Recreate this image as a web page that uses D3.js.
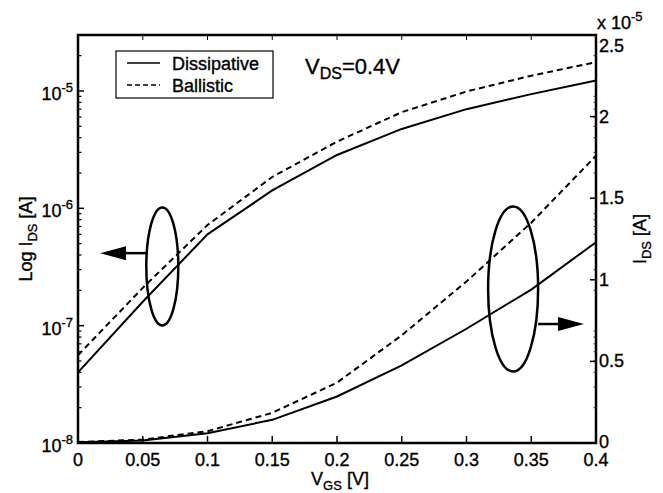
<!DOCTYPE html>
<html><head><meta charset="utf-8">
<script src="https://cdn.jsdelivr.net/npm/d3@7"></script>
<style>
body{margin:0;background:#fff;}
text{font-family:"Liberation Sans",Arial,Helvetica,sans-serif;fill:#000;stroke:#000;stroke-width:0.35px;}
</style></head>
<body><svg id="c" width="663" height="493"></svg>
<script>
// ---- data ----
const vgs = [0, 0.05, 0.1, 0.15, 0.2, 0.25, 0.3, 0.35, 0.4];
const dissipative = [4.0e-8, 1.6e-7, 6.0e-7, 1.42e-6, 2.85e-6, 4.75e-6, 7.0e-6, 9.4e-6, 1.23e-5];
const ballistic   = [5.6e-8, 2.1e-7, 7.2e-7, 1.85e-6, 3.7e-6, 6.6e-6, 9.9e-6, 1.35e-5, 1.76e-5];
const xTicks = [0, 0.05, 0.1, 0.15, 0.2, 0.25, 0.3, 0.35, 0.4];
const xTickLabels = ["0","0.05","0.1","0.15","0.2","0.25","0.3","0.35","0.4"];
const logTicks = [1e-8, 1e-7, 1e-6, 1e-5];
const logTickExp = ["-8","-7","-6","-5"];
const linTicks = [0, 0.5e-5, 1e-5, 1.5e-5, 2e-5, 2.5e-5];
const linTickLabels = ["0","0.5","1","1.5","2","2.5"];
const seriesNames = ["Dissipative","Ballistic"];

// ---- layout ----
const L=78, R=596, T=35, B=443;
const svg = d3.select("#c");
const x = d3.scaleLinear().domain([0,0.4]).range([L,R]);
const yLog = d3.scaleLog().domain([1e-8, 3e-5]).range([B,T]);
const yLin = d3.scaleLinear().domain([0, 2.5e-5]).range([B,T]);

const fs = 18, fsSub = 13;

// curves
function drawSeries(vals, yS, dashed){
  const line = d3.line().x((d,i)=>x(vgs[i])).y(d=>yS(d));
  svg.append("path").datum(vals).attr("d", line)
    .attr("fill","none").attr("stroke","#000").attr("stroke-width",2)
    .attr("stroke-dasharray", dashed ? "6,4" : null);
}
drawSeries(dissipative, yLog, false);
drawSeries(ballistic, yLog, true);
drawSeries(dissipative, yLin, false);
drawSeries(ballistic, yLin, true);

// frame
svg.append("rect").attr("x",L).attr("y",T).attr("width",R-L).attr("height",B-T)
  .attr("fill","none").attr("stroke","#000").attr("stroke-width",2.5);

// x ticks (bottom & top, inward)
xTicks.forEach((v,i)=>{
  svg.append("line").attr("x1",x(v)).attr("x2",x(v)).attr("y1",B).attr("y2",B-7).attr("stroke","#000").attr("stroke-width",1.5);
  svg.append("line").attr("x1",x(v)).attr("x2",x(v)).attr("y1",T).attr("y2",T+5).attr("stroke","#000").attr("stroke-width",1);
  svg.append("text").attr("x",x(v)).attr("y",B+23).attr("text-anchor","middle").attr("font-size",fs).text(xTickLabels[i]);
});

// log ticks left (major + minor) and mirrored right
const minor = [];
for (let e=-8; e<=-5; e++) for (let m=2; m<=9; m++){ const v=m*Math.pow(10,e); if (v<=3e-5) minor.push(v); }
minor.forEach(v=>{
  svg.append("line").attr("x1",L).attr("x2",L+3.5).attr("y1",yLog(v)).attr("y2",yLog(v)).attr("stroke","#000").attr("stroke-width",1.2);
  svg.append("line").attr("x1",R).attr("x2",R-2.5).attr("y1",yLog(v)).attr("y2",yLog(v)).attr("stroke","#000").attr("stroke-width",0.8);
});
logTicks.forEach((v,i)=>{
  svg.append("line").attr("x1",L).attr("x2",L+6).attr("y1",yLog(v)).attr("y2",yLog(v)).attr("stroke","#000").attr("stroke-width",1.5);
  const t = svg.append("text").attr("x",L-5).attr("y",yLog(v)+9).attr("text-anchor","end").attr("font-size",fs);
  t.append("tspan").text("10");
  t.append("tspan").attr("dy",-8).attr("font-size",fsSub).text(logTickExp[i]);
});

// linear ticks right
linTicks.forEach((v,i)=>{
  svg.append("line").attr("x1",R).attr("x2",R-6).attr("y1",yLin(v)).attr("y2",yLin(v)).attr("stroke","#000").attr("stroke-width",1.5);
  const yy = i === linTicks.length-1 ? yLin(v)+17 : (i===0 ? yLin(v)+5 : yLin(v)+6);
  svg.append("text").attr("x",R+3).attr("y",yy).attr("text-anchor","start").attr("font-size",fs).text(linTickLabels[i]);
});
// multiplier
const mt = svg.append("text").attr("x",R+1).attr("y",29).attr("font-size",fs);
mt.append("tspan").text("x 10");
mt.append("tspan").attr("dy",-8).attr("font-size",fsSub).text("-5");

// axis labels
const yl = svg.append("text").attr("transform",`translate(32,${(T+B)/2}) rotate(-90)`).attr("text-anchor","middle").attr("font-size",fs);
yl.append("tspan").text("Log I");
yl.append("tspan").attr("dy",5).attr("font-size",fsSub).text("DS");
yl.append("tspan").attr("dy",-5).text(" [A]");

const yr = svg.append("text").attr("transform",`translate(646,${(T+B)/2}) rotate(-90)`).attr("text-anchor","middle").attr("font-size",fs);
yr.append("tspan").text("I");
yr.append("tspan").attr("dy",5).attr("font-size",fsSub).text("DS");
yr.append("tspan").attr("dy",-5).text(" [A]");

const xl = svg.append("text").attr("x",(L+R)/2+3).attr("y",B+42).attr("text-anchor","middle").attr("font-size",fs);
xl.append("tspan").text("V");
xl.append("tspan").attr("dy",5).attr("font-size",fsSub).text("GS");
xl.append("tspan").attr("dy",-5).text(" [V]");

// V_DS annotation
const vd = svg.append("text").attr("x",305).attr("y",74).attr("font-size",22);
vd.append("tspan").text("V");
vd.append("tspan").attr("dy",5).attr("font-size",16).text("DS");
vd.append("tspan").attr("dy",-5).text("=0.4V");

// legend
const lg = svg.append("g");
lg.append("rect").attr("x",116).attr("y",51).attr("width",157).attr("height",47).attr("fill","#fff").attr("stroke","#000").attr("stroke-width",1.2);
seriesNames.forEach((n,i)=>{
  const yy = 63 + i*22;
  lg.append("line").attr("x1",127).attr("x2",160).attr("y1",yy).attr("y2",yy).attr("stroke","#000").attr("stroke-width",1.5)
    .attr("stroke-dasharray", i===1 ? "5,3" : null);
  lg.append("text").attr("x",172).attr("y",yy+6.5).attr("font-size",fs).text(n);
});

// ellipses + arrows (positioned in data coordinates)
function ellipse(cx, cy, rx, ry){
  svg.append("ellipse").attr("cx",cx).attr("cy",cy).attr("rx",rx).attr("ry",ry)
    .attr("fill","none").attr("stroke","#000").attr("stroke-width",2.5);
}
function arrow(x1, x2, yy){
  const dir = Math.sign(x2-x1);
  const headLen = 26, hw = 7;
  svg.append("line").attr("x1",x1).attr("x2",x2-dir*headLen).attr("y1",yy).attr("y2",yy).attr("stroke","#000").attr("stroke-width",2.5);
  svg.append("path").attr("d",`M${x2},${yy} L${x2-dir*headLen},${yy-hw} L${x2-dir*headLen},${yy+hw} Z`).attr("fill","#000");
}
// left ellipse around log curves
ellipse(x(0.0651), yLog(3.2e-7), 16, 59);
arrow(x(0.0651)-16, x(0.017), yLog(4.15e-7));
// right ellipse around linear curves
ellipse(x(0.336), yLin(0.944e-5), 25, 82.5);
arrow(x(0.336)+25, x(0.3907), yLin(0.729e-5));
</script></body></html>
